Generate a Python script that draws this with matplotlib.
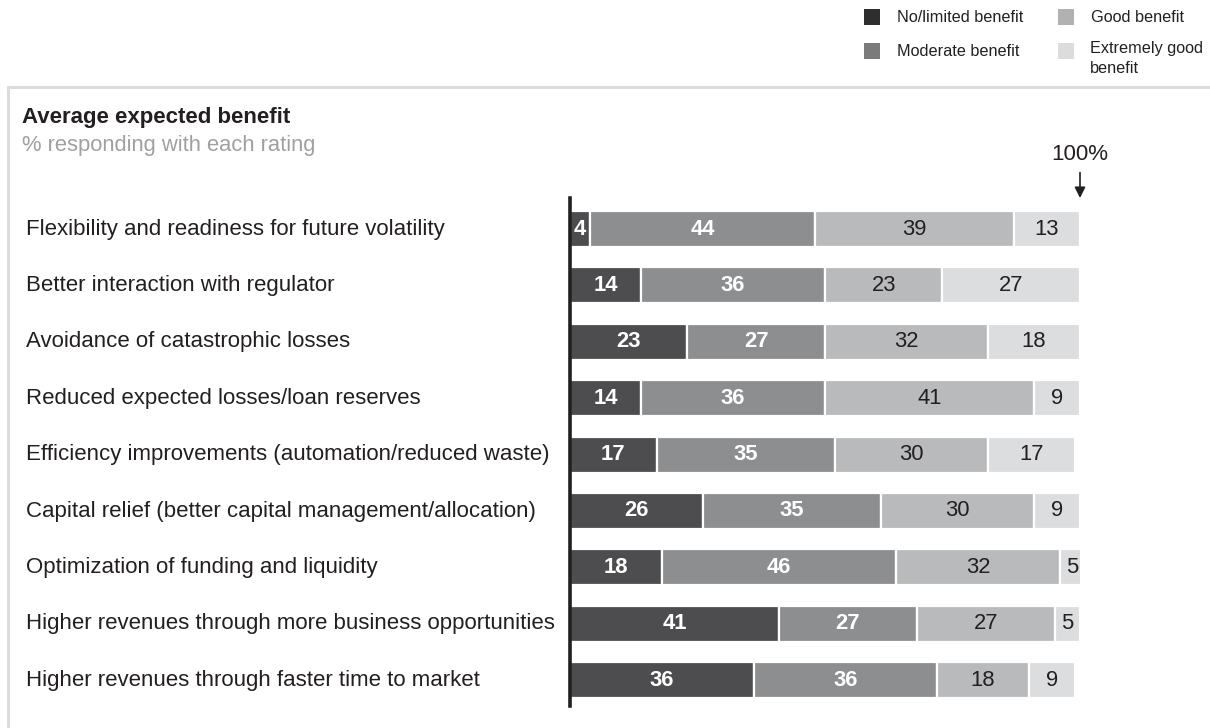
import matplotlib
matplotlib.use("Agg")
import matplotlib.pyplot as plt
import matplotlib.transforms as mtransforms
from matplotlib.patches import Rectangle
from matplotlib.lines import Line2D

plt.rcParams['font.family'] = ['Liberation Sans', 'DejaVu Sans']

categories = [
    "Flexibility and readiness for future volatility",
    "Better interaction with regulator",
    "Avoidance of catastrophic losses",
    "Reduced expected losses/loan reserves",
    "Efficiency improvements (automation/reduced waste)",
    "Capital relief (better capital management/allocation)",
    "Optimization of funding and liquidity",
    "Higher revenues through more business opportunities",
    "Higher revenues through faster time to market",
]
no_limited = [4, 14, 23, 14, 17, 26, 18, 41, 36]
moderate = [44, 36, 27, 36, 35, 35, 46, 27, 36]
good = [39, 23, 32, 41, 30, 30, 32, 27, 18]
extremely_good = [13, 27, 18, 9, 17, 9, 5, 5, 9]

series = [
    ("No/limited benefit", no_limited, "#4d4d4f", "#2e2e2e", "white", "bold"),
    ("Moderate benefit", moderate, "#8d8e90", "#7b7b7c", "white", "bold"),
    ("Good benefit", good, "#b9babc", "#b1b1b2", "#231f20", "normal"),
    ("Extremely good\nbenefit", extremely_good, "#dcdddf", "#dcdcdc", "#231f20", "normal"),
]

W, H = 1210, 728
fig = plt.figure(figsize=(W / 100, H / 100), dpi=100)


def fx(px):
    return px / W


def fy(py):
    return 1 - py / H


# panel frame (top and left rules)
fig.add_artist(Line2D([fx(8), fx(1210)], [fy(87), fy(87)], color="#dcdcdc", lw=2.2))
fig.add_artist(Line2D([fx(8), fx(8)], [fy(87), fy(728)], color="#dcdcdc", lw=2.2))

# header
fig.text(fx(22), fy(118), "Average expected benefit", fontsize=16, fontweight="bold",
         color="#231f20", va="center", ha="left")
fig.text(fx(22), fy(145), "% responding with each rating", fontsize=15.8,
         color="#a0a0a0", va="center", ha="left")

# legend
leg_pos = [(864, 17), (864, 51), (1058, 17), (1058, 51)]
for (name, _, _, lc, _, _), (lx, ly) in zip(series, leg_pos):
    fig.add_artist(Rectangle((fx(lx), fy(ly + 8)), 16 / W, 16 / H, transform=fig.transFigure,
                             facecolor=lc, edgecolor="none"))
    if "\n" in name:
        fig.text(fx(lx + 32), fy(ly - 10), name, fontsize=11.7, color="#231f20",
                 va="top", ha="left", linespacing=1.45)
    else:
        fig.text(fx(lx + 33), fy(ly), name, fontsize=11.7, color="#231f20",
                 va="center", ha="left")

# bar area: x 0..100 mapped to px 570..1080, rows centred 229..680
x0_px, x1_px = 570, 1080
top_px, bot_px = 200.8, 708.4
ax = fig.add_axes([fx(x0_px), fy(bot_px), (x1_px - x0_px) / W, (bot_px - top_px) / H])
n = len(categories)
ax.set_xlim(0, 100)
ax.set_ylim(n - 0.5, -0.5)
ax.axis("off")

label_tf = mtransforms.blended_transform_factory(fig.transFigure, ax.transData)
for i in range(n):
    left = 0
    for name, vals, c, _, tc, tw in series:
        v = vals[i]
        ax.barh(i, v, left=left, height=0.64, color=c, edgecolor="white", linewidth=1.6)
        ax.text(left + v / 2, i, str(v), ha="center", va="center", fontsize=15.8,
                color=tc, fontweight=tw)
        left += v
    ax.text(fx(26), i, categories[i], transform=label_tf, ha="left", va="center",
            fontsize=16, color="#231f20", clip_on=False)

# baseline
fig.add_artist(Line2D([fx(570), fx(570)], [fy(198), fy(706)], color="#231f20", lw=2.6))

# 100% marker
ax.annotate("", xy=(100, -0.5), xycoords="data", xytext=(100, -1.05),
            arrowprops=dict(arrowstyle="-|>", color="#231f20", lw=1.2, mutation_scale=16),
            annotation_clip=False)
ax.text(100, -1.32, "100%", ha="center", va="center", fontsize=16, color="#231f20",
        clip_on=False)

fig.savefig("out.png", dpi=100, facecolor="white")
